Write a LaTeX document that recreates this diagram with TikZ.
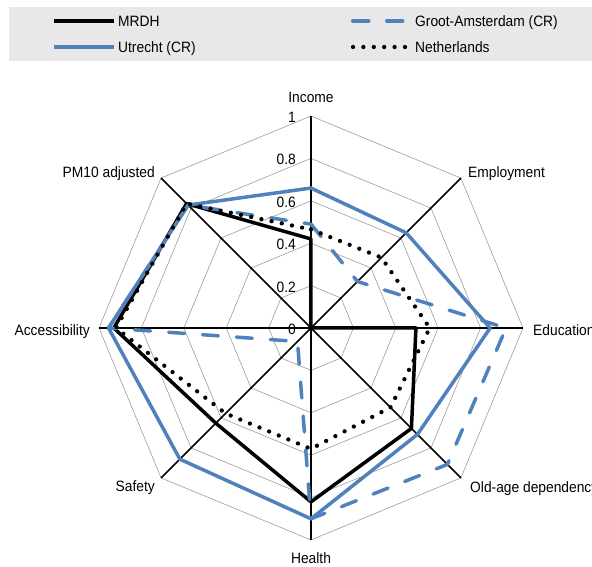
\documentclass[tikz,border=0pt]{standalone}
\usepackage{fontspec}
\setmainfont{Liberation Sans}[FakeStretch=0.92]
\usetikzlibrary{positioning}
\definecolor{oecdblue}{RGB}{79,129,189}
\definecolor{gridgray}{RGB}{155,155,155}
\definecolor{keygray}{RGB}{232,232,232}
\tikzset{font=\fontsize{15}{18}\selectfont}
\tikzset{every node/.append style={inner sep=0pt}}
\tikzset{
  gridline/.style={draw=gridgray, line width=0.6pt},
  axisline/.style={line width=1.5pt},
  mrdh/.style={line width=3.5pt, line join=round},
  utrecht/.style={draw=oecdblue, line width=3.5pt, line join=round},
  amsterdam/.style={draw=oecdblue, line width=3.5pt, line join=round,
    line cap=round, dash pattern=on 16pt off 18pt},
  nether/.style={line width=4.3pt, line cap=round, dash pattern=on 0pt off 10.4pt},
}

\begin{document}
\begin{tikzpicture}[x=212pt,y=212pt]
  \useasboundingbox (-311pt,-239pt) rectangle (281pt,328pt);

  % key
  \fill[keygray] (-302pt,267pt) rectangle (281pt,321pt);
  \draw[mrdh] (-257pt,307pt) -- (-197pt,307pt);
  \draw[utrecht] (-257pt,281pt) -- (-197pt,281pt);
  \draw[amsterdam] (41.75pt,307pt) -- (93.25pt,307pt);
  \draw[nether] (42pt,281pt) -- (94.5pt,281pt);
  \node[anchor=base west] (kMRDH) at (-193pt,301.6pt) {MRDH};
  \node[anchor=base west] (kUtr) at (-193pt,275.6pt) {Utrecht (CR)};
  \node[anchor=base west] (kAms) at (104pt,301.6pt) {Groot-Amsterdam (CR)};
  \node[anchor=base west] (kNL) at (104pt,275.6pt) {Netherlands};

  \coordinate (o) at (0,0);
  \coordinate (aInc) at (90:1);
  \coordinate (aEmp) at (45:1);
  \coordinate (aEdu) at (0:1);
  \coordinate (aOld) at (-45:1);
  \coordinate (aHea) at (-90:1);
  \coordinate (aSaf) at (-135:1);
  \coordinate (aAcc) at (180:1);
  \coordinate (aPM) at (135:1);

  % rings and spokes
  \foreach \r in {0.2,0.4,0.6,0.8,1}
    \draw[gridline] (90:\r) -- (45:\r) -- (0:\r) -- (-45:\r) -- (-90:\r)
      -- (-135:\r) -- (180:\r) -- (135:\r) -- cycle;
  \foreach \a in {aInc,aEmp,aEdu,aOld,aHea,aSaf,aAcc,aPM}
    \draw[axisline] (o) -- (\a);

  \foreach \r/\t [count=\i] in {0/0,0.2/0.2,0.4/0.4,0.6/0.6,0.8/0.8,1/1}
    \node[anchor=base east, xshift=-15pt, yshift=-6.5pt] (tick\i) at (0,\r) {\t};

  \node[anchor=base] (lInc) at (0pt,225pt) {Income};
  \node[anchor=base west] (lEmp) at (157pt,150.6pt) {Employment};
  \node[anchor=base west] (lEdu) at (222pt,-7.4pt) {Education};
  \node[anchor=base west] (lOld) at (159pt,-164.4pt) {Old-age dependency};
  \node[anchor=base] (lHea) at (0pt,-235.4pt) {Health};
  \node[anchor=base east] (lSaf) at (-156pt,-163.4pt) {Safety};
  \node[anchor=base east] (lAcc) at (-221pt,-7.4pt) {Accessibility};
  \node[anchor=base east] (lPM) at (-156pt,150pt) {PM10 adjusted};

  \draw[mrdh] (90:0.42) -- (45:0) -- (0:0.495) -- (-45:0.67) -- (-90:0.82)
    -- (-135:0.635) -- (180:0.93) -- (135:0.83) -- cycle;
  \draw[amsterdam] (90:0.49) -- (45:0.31) -- (0:0.92) -- (-45:0.91) -- (-90:0.90)
    -- (-135:0.09) -- (180:0.955) -- (135:0.82) -- cycle;
  \draw[utrecht] (90:0.66) -- (45:0.635) -- (0:0.845) -- (-45:0.71) -- (-90:0.90)
    -- (-135:0.875) -- (180:0.955) -- (135:0.82) -- cycle;
  \draw[nether] (90:0.465) -- (45:0.47) -- (0:0.56) -- (-45:0.53) -- (-90:0.57)
    -- (-135:0.57) -- (180:0.92) -- (135:0.83) -- cycle;
\end{tikzpicture}
\end{document}
